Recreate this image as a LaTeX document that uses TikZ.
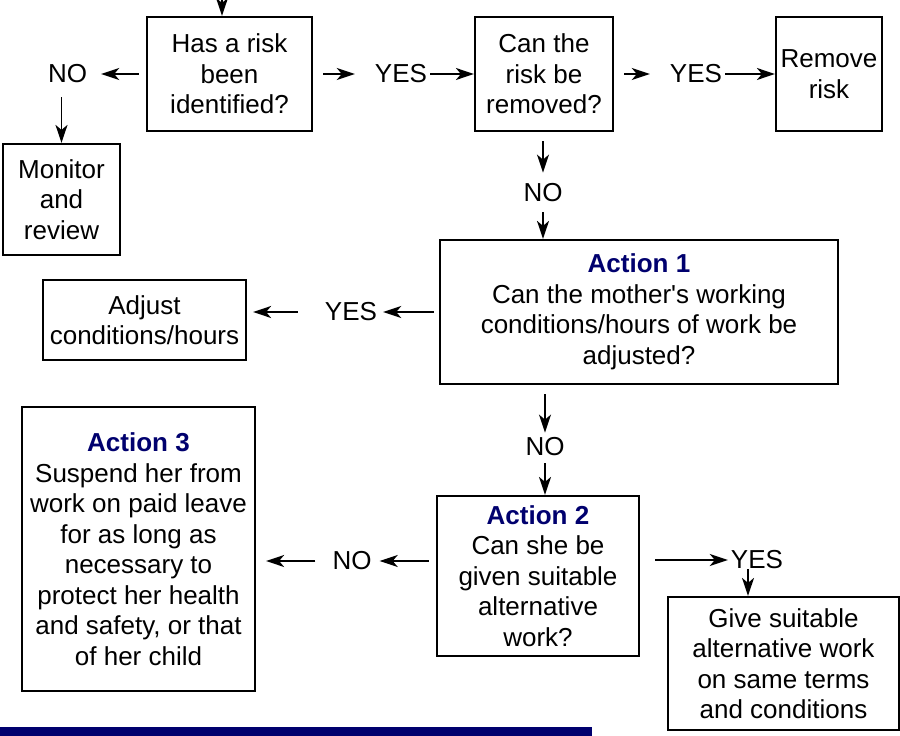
\documentclass[tikz,border=0pt]{standalone}
\usepackage{fontspec}
\setmainfont{Liberation Sans}
\usepackage{xcolor}
\usepackage{tikz}
\usetikzlibrary{arrows.meta,positioning}
\definecolor{navy}{RGB}{0,0,110}
\newcommand{\actionhead}[1]{\textcolor{navy}{\textbf{#1}}}

\begin{document}
\begin{tikzpicture}[
    x=1pt, y=-1pt,
    every node/.style={font=\fontsize{26}{30.5}\selectfont},
    box/.style={draw, line width=2.2pt, align=center, inner sep=0pt},
    lbl/.style={inner sep=0pt},
    arr/.style={-{Stealth[length=18pt,width=12pt,inset=5pt]}, line width=1.8pt}
  ]
    \useasboundingbox (0,0) rectangle (900,736);

    % Question and action boxes
    \node[box, minimum width=165pt, minimum height=114pt] (risk) at (229.5,74) {Has a risk\\been\\identified?};
    \node[box, minimum width=138pt, minimum height=114pt] (remq) at (544,74) {Can the\\risk be\\removed?};
    \node[box, minimum width=106pt, minimum height=114pt] (remove) at (829,74) {Remove\\risk};
    \node[box, minimum width=117pt, minimum height=111pt] (mon) at (61.5,199.5) {Monitor\\and\\review};
    \node[box, minimum width=398pt, minimum height=144pt] (act1) at (639,312)
      {\actionhead{Action 1}\\Can the mother\textquotesingle s working\\conditions/hours of work be\\adjusted?};
    \node[box, minimum width=203pt, minimum height=80pt] (adjust) at (144.5,320) {Adjust\\conditions/hours};
    \node[box, minimum width=202pt, minimum height=160pt] (act2) at (538,576)
      {\actionhead{Action 2}\\Can she be\\given suitable\\alternative\\work?};
    \node[box, minimum width=233pt, minimum height=284pt] (act3) at (138.5,549)
      {\actionhead{Action 3}\\Suspend her from\\work on paid leave\\for as long as\\necessary to\\protect her health\\and safety, or that\\of her child};
    \node[box, minimum width=231pt, minimum height=133pt] (give) at (783.5,663.5)
      {Give suitable\\alternative work\\on same terms\\and conditions};

    % Answer labels
    \node[lbl] (no1) at (67.5,74) {NO};
    \node[lbl] (yes1) at (401,74) {YES};
    \node[lbl] (yes2) at (696,74) {YES};
    \node[lbl] (no2) at (543,193) {NO};
    \node[lbl] (yes3) at (351,312) {YES};
    \node[lbl] (no3) at (545,447) {NO};
    \node[lbl] (no4) at (352,561) {NO};
    \node[lbl] (yes4) at (757,560) {YES};

    % Connectors
    \coordinate (entry) at (222,-20);
    \draw[arr] (entry) -- (entry |- risk.north);
    \draw[arr, shorten <=7pt, shorten >=14pt] (risk.west) -- (no1.east);
    \draw[arr, shorten <=14pt] (no1.south -| mon.north) -- (mon.north);
    \draw[arr, shorten <=10pt, shorten >=20pt] (risk.east) -- (yes1.west);
    \draw[arr, shorten <=3pt] (yes1.east) -- (remq.west);
    \draw[arr, shorten <=10pt, shorten >=20pt] (remq.east) -- (yes2.west);
    \draw[arr, shorten <=3pt] (yes2.east) -- (remove.west);
    \draw[arr, shorten <=9pt, shorten >=11pt] (no2.north |- remq.south) -- (no2.north);
    \draw[arr, shorten <=10pt] (no2.south) -- (no2.south |- act1.north);
    \draw[arr, shorten <=5pt, shorten >=6pt] (act1.west |- yes3.east) -- (yes3.east);
    \draw[arr, shorten <=27pt, shorten >=6pt] (yes3.west) -- (yes3.west -| adjust.east);
    \draw[arr, shorten <=9pt, shorten >=5pt] (no3.north |- act1.south) -- (no3.north);
    \draw[arr, shorten <=7pt] (no3.south) -- (no3.south |- act2.north);
    \draw[arr, shorten <=7pt, shorten >=8pt] (act2.west |- no4.east) -- (no4.east);
    \draw[arr, shorten <=17pt, shorten >=10pt] (no4.west) -- (no4.west -| act3.east);
    \draw[arr, shorten <=15pt, shorten >=3pt] (act2.east |- yes4.west) -- (yes4.west);
    \draw[arr] ([xshift=-9pt]yes4.south) -- ([xshift=-9pt]yes4.south |- give.north);

    % Bottom bar
    \fill[navy] (0,727) rectangle (592,736);
\end{tikzpicture}
\end{document}
